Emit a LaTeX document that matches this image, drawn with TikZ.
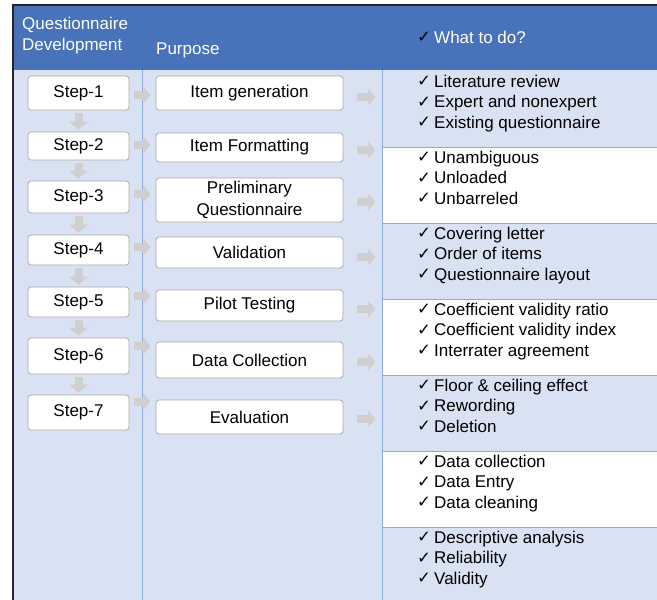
\documentclass[tikz,border=0pt]{standalone}
\usepackage{fontspec}
\setmainfont{Liberation Sans}
\newfontfamily\chkfont{DejaVu Sans}
\usetikzlibrary{arrows.meta,calc}

\definecolor{hdrblue}{RGB}{72,114,185}
\definecolor{bandblue}{RGB}{217,226,243}
\definecolor{gridblue}{RGB}{142,170,219}
\definecolor{arrowgray}{RGB}{208,206,206}
\definecolor{boxline}{RGB}{170,170,170}

% check mark followed by a fixed gap
\newcommand\tick{\makebox[17pt][l]{\raisebox{0.5pt}{\chkfont\fontsize{16.5}{16.5}\selectfont ✓}}}

\tikzset{
  gridline/.style={gridblue, line width=0.8pt},
  stepbox/.style={draw=boxline, fill=white, rounded corners=3pt, line width=0.8pt,
                  minimum width=101pt, inner sep=0pt, align=center},
  purpbox/.style={stepbox, minimum width=187pt},
  hdrtext/.style={anchor=base west, inner sep=0pt, text=white},
  item/.style={anchor=base west, inner sep=0pt},
  darr/.style={arrowgray, line width=8pt, -{Triangle[width=19pt,length=8pt]}},
  rarr/.style={arrowgray, line width=8pt, -{Triangle[width=16pt,length=7pt]}},
}

\begin{document}
\begin{tikzpicture}[x=1pt, y=-1pt, font=\fontsize{17}{21}\selectfont]
\useasboundingbox (0,0) rectangle (657,600);

% table background and header band
\fill[bandblue] (13,70) rectangle (657,600);
\fill[hdrblue] (13,5) rectangle (657,70);
\foreach \ya/\yb in {147/223, 299/375, 451/527}
  \fill[white] (382,\ya) rectangle (657,\yb);
\foreach \y in {147,223,299,375,451,527}
  \draw[gridline] (382,\y) -- (657,\y);
\draw[gridline] (142,70) -- (142,600);
\draw[gridline] (382,70) -- (382,600);
\draw[black!85, line width=1.3pt] (13,600) -- (13,5) -- (657,5);

% header
\node[hdrtext] (h1a) at (22,29) {Questionnaire};
\node[hdrtext] (h1b) at (22,50) {Development};
\node[hdrtext] (h2) at (156,54) {Purpose};
\node[hdrtext] (h3) at (417,43) {\textcolor{black}{\tick}What to do?};

% steps
\node[stepbox, minimum height=34pt] (s1) at (78.5,93)   {Step-1};
\node[stepbox, minimum height=28pt] (s2) at (78.5,146)  {Step-2};
\node[stepbox, minimum height=32pt] (s3) at (78.5,197)  {Step-3};
\node[stepbox, minimum height=30pt] (s4) at (78.5,250)  {Step-4};
\node[stepbox, minimum height=30pt] (s5) at (78.5,302)  {Step-5};
\node[stepbox, minimum height=36pt] (s6) at (78.5,356)  {Step-6};
\node[stepbox, minimum height=35pt] (s7) at (78.5,412.5){Step-7};

% purposes
\node[purpbox, minimum height=34pt] (p1) at (249.5,93)    {Item generation};
\node[purpbox, minimum height=29pt] (p2) at (249.5,147.5) {Item Formatting};
\node[purpbox, minimum height=44pt, font=\fontsize{17}{22}\selectfont] (p3) at (249.5,200) {Preliminary\\Questionnaire};
\node[purpbox, minimum height=31pt] (p4) at (249.5,252.5) {Validation};
\node[purpbox, minimum height=31pt] (p5) at (249.5,305.5) {Pilot Testing};
\node[purpbox, minimum height=36pt] (p6) at (249.5,360)   {Data Collection};
\node[purpbox, minimum height=34pt] (p7) at (249.5,417)   {Evaluation};

% step-to-step arrows
\foreach \a/\b in {s1/s2, s2/s3, s3/s4, s4/s5, s5/s6, s6/s7}
  \draw[darr] ($(\a.south)+(0,3)$) -- ($(\b.north)+(0,-2)$);

% step-to-purpose arrows
\foreach \i/\dy in {1/2, 2/-1, 3/-3, 4/-3, 5/-6, 6/-10, 7/-11}
  \draw[rarr] ($(s\i.east)+(5,\dy)$) -- ($(p\i.west |- s\i.east)+(-5,\dy)$);

% purpose-to-task arrows
\foreach \i/\dy in {1/4, 2/2.5, 3/2, 4/4.5, 5/3.5, 6/2, 7/2}
  \draw[rarr] ($(p\i.east)+(14,\dy)$) -- ++(18,0);

% task lists
\foreach \t [count=\i from 0] in {
    Literature review, Expert and nonexpert, Existing questionnaire,
    Unambiguous, Unloaded, Unbarreled,
    Covering letter, Order of items, Questionnaire layout,
    Coefficient validity ratio, Coefficient validity index, Interrater agreement,
    Floor \& ceiling effect, Rewording, Deletion,
    Data collection, Data Entry, Data cleaning,
    Descriptive analysis, Reliability, Validity} {
  \pgfmathtruncatemacro\r{int(\i/3)}
  \pgfmathtruncatemacro\l{mod(\i,3)}
  \node[item] (w\i) at (417, {87+76*\r+20.7*\l}) {\tick\t};
}
\end{tikzpicture}
\end{document}
